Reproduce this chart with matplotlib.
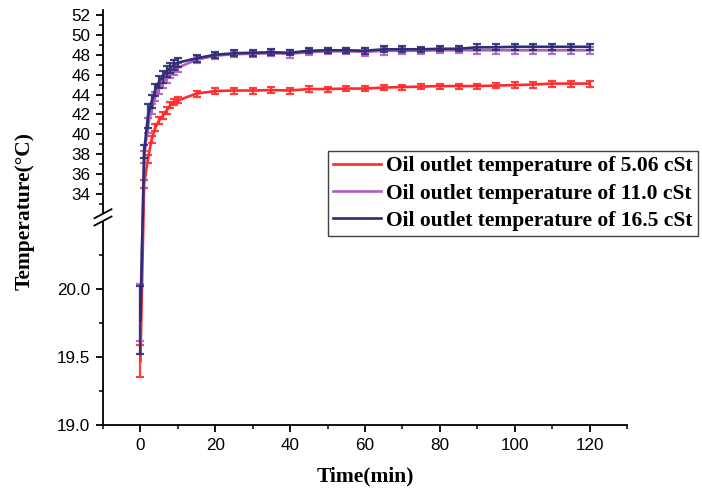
import numpy as np
import matplotlib
matplotlib.use('Agg')
import matplotlib.pyplot as plt
from matplotlib.ticker import FixedLocator, FuncFormatter
from matplotlib.patches import Rectangle
from matplotlib.lines import Line2D

# data
time = [0, 1, 2, 3, 4, 5, 6, 7, 8, 9, 10, 15, 20, 25, 30, 35, 40, 45, 50, 55,
        60, 65, 70, 75, 80, 85, 90, 95, 100, 105, 110, 115, 120]

t_506 = [19.47, 35.0, 37.5, 39.5, 40.7, 41.4, 41.9, 42.4, 42.9, 43.2, 43.4, 44.1,
         44.35, 44.4, 44.4, 44.45, 44.4, 44.55, 44.55, 44.6, 44.6, 44.7, 44.75,
         44.8, 44.85, 44.85, 44.85, 44.9, 44.95, 45.0, 45.1, 45.1, 45.1]
e_506 = [0.12, 0.4, 0.4, 0.35, 0.35, 0.35, 0.35, 0.35, 0.3, 0.3, 0.3, 0.3,
         0.3, 0.3, 0.3, 0.3, 0.3, 0.3, 0.25, 0.25, 0.25, 0.25, 0.25,
         0.25, 0.25, 0.25, 0.25, 0.25, 0.3, 0.3, 0.3, 0.3, 0.3]

t_110 = [19.83, 37.7, 40.9, 42.5, 43.8, 44.6, 45.2, 45.7, 46.1, 46.4, 46.7, 47.5,
         47.9, 48.05, 48.1, 48.15, 48.1, 48.25, 48.35, 48.35, 48.3, 48.4, 48.4,
         48.4, 48.45, 48.45, 48.45, 48.45, 48.45, 48.45, 48.45, 48.45, 48.45]
e_110 = [0.21, 0.6, 0.75, 0.5, 0.5, 0.5, 0.5, 0.5, 0.45, 0.45, 0.45, 0.35,
         0.3, 0.3, 0.3, 0.3, 0.4, 0.3, 0.3, 0.3, 0.4, 0.4, 0.3,
         0.3, 0.3, 0.3, 0.35, 0.35, 0.35, 0.35, 0.35, 0.35, 0.35]

t_165 = [19.77, 38.3, 41.8, 43.3, 44.5, 45.3, 45.8, 46.3, 46.7, 47.0, 47.2, 47.65,
         48.0, 48.15, 48.2, 48.25, 48.2, 48.4, 48.45, 48.45, 48.4, 48.55, 48.55,
         48.55, 48.6, 48.6, 48.75, 48.75, 48.8, 48.8, 48.8, 48.8, 48.8]
e_165 = [0.25, 0.65, 1.2, 0.7, 0.6, 0.6, 0.6, 0.55, 0.5, 0.5, 0.45, 0.35,
         0.3, 0.3, 0.3, 0.3, 0.25, 0.25, 0.25, 0.25, 0.3, 0.3, 0.3,
         0.25, 0.25, 0.25, 0.3, 0.3, 0.3, 0.3, 0.3, 0.3, 0.3]

labels = ['Oil outlet temperature of 5.06 cSt',
          'Oil outlet temperature of 11.0 cSt',
          'Oil outlet temperature of 16.5 cSt']
colors = ['#ff2b2b', '#b05cc0', '#2e2e74']

# broken y axis: lower part 19-20.5, upper part 33-52.5
yk = [-100, 19.0, 20.5, 33.0, 200]
pk = [-119 * 136.0, 0.0, 204.0, 221.06, 221.06 + 167 * 9.94]

def fwd(y):
    return np.interp(y, yk, pk)

def inv(p):
    return np.interp(p, pk, yk)

fig = plt.figure(figsize=(7.02, 4.94), dpi=100)
ax = fig.add_axes([103 / 702, 69 / 494, 524 / 702, 415 / 494])
ax.set_yscale('function', functions=(fwd, inv))

for y, e, c, lab in zip([t_506, t_110, t_165], [e_506, e_110, e_165], colors, labels):
    ax.errorbar(time, y, yerr=e, fmt='none', ecolor=c, elinewidth=1.6,
                capsize=3.2, capthick=1.6, alpha=0.9)
    ax.plot(time, y, color=c, lw=1.9, label=lab)

ax.set_xlim(-10, 130)
ax.set_ylim(19.0, 52.5)

ax.xaxis.set_major_locator(FixedLocator([0, 20, 40, 60, 80, 100, 120]))
ax.xaxis.set_minor_locator(FixedLocator([-10, 10, 30, 50, 70, 90, 110, 130]))
ymaj = [19.0, 19.5, 20.0] + list(range(34, 53, 2))
ymin = [19.25, 19.75, 20.25] + list(range(33, 52, 2))
ax.yaxis.set_major_locator(FixedLocator(ymaj))
ax.yaxis.set_minor_locator(FixedLocator(ymin))
ax.yaxis.set_major_formatter(FuncFormatter(
    lambda v, p: '%.1f' % v if v < 25 else '%d' % round(v)))

for s in ['top', 'right']:
    ax.spines[s].set_visible(False)
for s in ['left', 'bottom']:
    ax.spines[s].set_linewidth(1.3)

ax.tick_params(which='major', direction='out', length=5, width=1.3,
               labelsize=12.3, labelfontfamily='Liberation Sans', pad=4)
ax.tick_params(which='minor', direction='out', length=3, width=1.1)

lab_font = dict(family='Liberation Serif', weight='bold', size=15.5)
ax.set_xlabel('Time(min)', fontdict=lab_font, labelpad=10)
ax.set_ylabel('Temperature(\u00b0C)', fontdict=lab_font)
ax.yaxis.set_label_coords(-0.13, 0.515)

# axis break: white gap on the spine and a "//" mark
aw, ah = 524.0, 415.0
ax.add_patch(Rectangle((-4 / aw, 204 / ah), 8 / aw, 7.5 / ah, transform=ax.transAxes,
                       facecolor='white', edgecolor='none', clip_on=False, zorder=5))
for yc in (204.0, 211.3):
    ax.add_line(Line2D([-8.5 / aw, 8.5 / aw], [(yc - 4.5) / ah, (yc + 4.5) / ah],
                       transform=ax.transAxes, color='black', lw=1.3,
                       clip_on=False, zorder=6))

fig.legend(loc='upper right', bbox_to_anchor=(698 / 702, 1 - 151 / 494),
           bbox_transform=fig.transFigure, fancybox=False, edgecolor='#404040',
           framealpha=1, borderpad=0.25, handlelength=2.2, handletextpad=0.25,
           labelspacing=0.33, borderaxespad=0,
           prop=dict(family='Liberation Serif', weight='bold', size=15.5))

fig.savefig('out.png', dpi=100)
